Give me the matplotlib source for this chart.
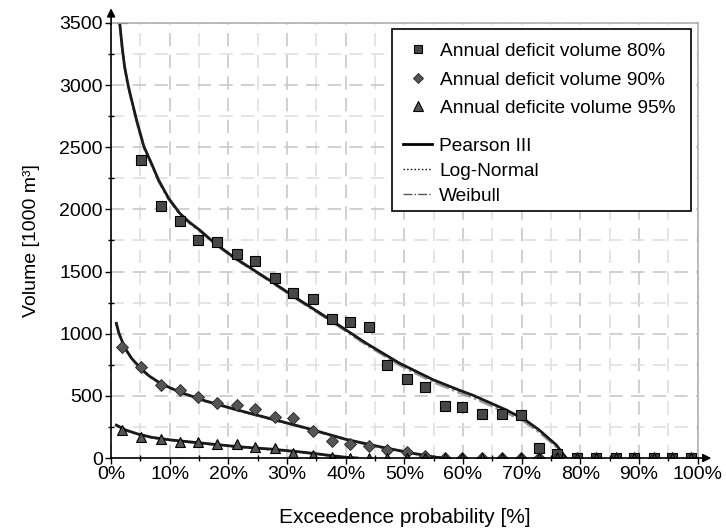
import matplotlib
matplotlib.use("Agg")
import matplotlib.pyplot as plt
from matplotlib.lines import Line2D
from matplotlib.patches import Rectangle
from matplotlib.ticker import MultipleLocator, FuncFormatter

plt.rcParams["font.family"] = ["Liberation Sans", "DejaVu Sans"]

# plotting positions [%] (same for the three samples)
prob = [1.8, 5.1, 8.5, 11.7, 14.8, 18.0, 21.4, 24.6, 27.9, 31.0, 34.4, 37.6, 40.7,
        43.9, 47.1, 50.4, 53.6, 56.9, 59.9, 63.3, 66.6, 69.8, 72.9, 76.1, 79.5,
        82.7, 86.0, 89.1, 92.5, 95.7, 98.9]

vol_80 = [3540, 2400, 2025, 1909, 1754, 1735, 1641, 1588, 1448, 1330, 1277, 1116, 1094,
          1051, 751, 633, 569, 418, 408, 354, 354, 343, 78, 32, 0,
          0, 0, 0, 0, 0, 0]
vol_90 = [891, 730, 587, 547, 493, 445, 429, 397, 332, 322, 217, 139, 110,
          99, 64, 45, 18, 0, 0, 0, 0, 0, 0, 0, 0,
          0, 0, 0, 0, 0, 0]
vol_95 = [225, 171, 150, 126, 126, 115, 115, 88, 77, 43, 24, 8, 0,
          0, 0, 0, 0, 0, 0, 0, 0, 0, 0, 0, 0,
          0, 0, 0, 0, 0, 0]

# fitted curves
fit80_x = [1.3, 1.5, 1.9, 2.3, 2.9, 3.5, 4.5, 5.6, 6.6, 8.1, 9.8, 11.7, 13.4, 15.1,
           17.5, 20.8, 26.5, 32.1, 37.9, 43.5, 49.2, 54.9, 59.4, 61.7, 67.4, 70.5,
           73.0, 75.9, 77.6]
p3_80 = [3560, 3485, 3300, 3150, 3000, 2880, 2690, 2505, 2400, 2236, 2090, 1969, 1895,
         1834, 1735, 1619, 1446, 1271, 1097, 923, 762, 630, 545, 505, 386, 310,
         225, 105, 0]
ln_80 = [3560, 3480, 3295, 3142, 2992, 2872, 2682, 2497, 2392, 2228, 2083, 1962, 1888,
         1828, 1729, 1613, 1440, 1264, 1088, 912, 748, 614, 528, 488, 368, 292,
         208, 92, 0]
wb_80 = [3560, 3478, 3292, 3138, 2988, 2868, 2678, 2494, 2389, 2224, 2080, 1960, 1886,
         1826, 1727, 1612, 1438, 1262, 1086, 910, 745, 610, 524, 484, 364, 289,
         205, 90, 0]

fit90_x = [0.9, 1.3, 1.8, 2.5, 3.5, 5.2, 6.5, 8.0, 10.0, 12.0, 16.0, 21.6, 27.3, 33.0,
           40.1, 45.8, 51.5, 55.4, 57.0]
p3_90 = [1084, 1010, 949, 875, 802, 714, 660, 614, 566, 526, 461, 386, 315, 245,
         150, 91, 38, 6, 0]
ln_90 = [1080, 1006, 945, 871, 798, 710, 657, 611, 563, 523, 458, 383, 312, 242,
         147, 88, 36, 5, 0]
wb_90 = [1078, 1004, 943, 869, 796, 709, 656, 610, 562, 522, 457, 382, 311, 241,
         146, 87, 35, 5, 0]

fit95_x = [0.9, 2.5, 4.6, 7.0, 10.3, 16.0, 21.7, 27.3, 31.9, 34.4, 37.5, 40.1, 42.0]
p3_95 = [265, 225, 193, 166, 145, 118, 91, 72, 51, 38, 20, 6, 0]
ln_95 = [263, 223, 191, 164, 143, 116, 89, 70, 49, 36, 18, 5, 0]
wb_95 = [262, 222, 190, 163, 142, 115, 88, 69, 48, 35, 17, 4, 0]

fig = plt.figure(figsize=(7.26, 5.32), dpi=100)
ax = fig.add_axes([0.153, 0.139, 0.808, 0.818])

ax.set_xlim(0, 100)
ax.set_ylim(0, 3500)

# grid
ax.xaxis.set_major_locator(MultipleLocator(10))
ax.xaxis.set_minor_locator(MultipleLocator(5))
ax.yaxis.set_major_locator(MultipleLocator(500))
ax.yaxis.set_minor_locator(MultipleLocator(250))
ax.grid(which="major", color="#c8c8c8", linestyle=(0, (8, 5)), linewidth=1.2)
ax.grid(which="minor", color="#e0e0e0", linestyle=(0, (8, 5)), linewidth=1.2)
ax.set_axisbelow(True)

for s in ["top", "right"]:
    ax.spines[s].set_color("#b0b0b0")
    ax.spines[s].set_linewidth(1.2)
for s in ["left", "bottom"]:
    ax.spines[s].set_color("black")
    ax.spines[s].set_linewidth(1.2)

ax.tick_params(which="major", direction="out", length=4, width=1, labelsize=14,
               colors="black", pad=2)
ax.tick_params(which="minor", direction="inout", length=5, width=1)
ax.xaxis.set_major_formatter(FuncFormatter(lambda v, p: f"{v:.0f}%"))

# arrows at axis ends
ax.annotate("", xy=(0, 1.04), xytext=(0, 0.99), xycoords="axes fraction",
            arrowprops=dict(arrowstyle="-|>", color="black", lw=1.2, mutation_scale=12))
ax.annotate("", xy=(1.028, 0), xytext=(0.99, 0), xycoords="axes fraction",
            arrowprops=dict(arrowstyle="-|>", color="black", lw=1.2, mutation_scale=12))

# fitted curves
for x, ln, wb, p3 in [(fit80_x, ln_80, wb_80, p3_80),
                      (fit90_x, ln_90, wb_90, p3_90),
                      (fit95_x, ln_95, wb_95, p3_95)]:
    ax.plot(x, ln, color="#888888", linestyle=":", linewidth=1.6)
    ax.plot(x, wb, color="#999999", linestyle="-.", linewidth=1.6)
    ax.plot(x, p3, color="#1a1a1a", linestyle="-", linewidth=2.0)

# observed points
ax.plot(prob, vol_80, linestyle="none", marker="s", markersize=7,
        markerfacecolor="#474747", markeredgecolor="black", markeredgewidth=0.8)
ax.plot(prob, vol_90, linestyle="none", marker="D", markersize=6,
        markerfacecolor="#555555", markeredgecolor="#222222", markeredgewidth=0.6)
ax.plot(prob, vol_95, linestyle="none", marker="^", markersize=7.5,
        markerfacecolor="#555555", markeredgecolor="black", markeredgewidth=0.8)

ax.set_xlabel("Exceedence probability [%]", fontsize=15, labelpad=18)
ax.set_ylabel("Volume [1000 m³]", fontsize=14, labelpad=14)

# legend: one frame, two blocks (points / distributions)
box = Rectangle((0.479, 0.568), 0.509, 0.418, transform=ax.transAxes,
                facecolor="white", edgecolor="black", linewidth=1.2, zorder=4)
ax.add_patch(box)

pt_handles = [
    Line2D([], [], linestyle="none", marker="s", markersize=6,
           markerfacecolor="#474747", markeredgecolor="black", markeredgewidth=0.8),
    Line2D([], [], linestyle="none", marker="D", markersize=5,
           markerfacecolor="#555555", markeredgecolor="#222222", markeredgewidth=0.6),
    Line2D([], [], linestyle="none", marker="^", markersize=6.5,
           markerfacecolor="#555555", markeredgecolor="black", markeredgewidth=0.8),
]
pt_labels = ["Annual deficit volume 80%", "Annual deficit volume 90%",
             "Annual deficite volume 95%"]
ln_handles = [
    Line2D([], [], color="black", linewidth=2),
    Line2D([], [], color="black", linestyle=":", linewidth=1),
    Line2D([], [], color="#555555", linestyle="-.", linewidth=1),
]
ln_labels = ["Pearson III", "Log-Normal", "Weibull"]

leg1 = ax.legend(pt_handles, pt_labels, loc="center left", bbox_to_anchor=(0.4953, 0.869),
                 fontsize=13.8, frameon=False, handlelength=1.7, handletextpad=0.3,
                 labelspacing=0.58, borderpad=0, borderaxespad=0)
leg1.set_zorder(5)
ax.add_artist(leg1)
leg2 = ax.legend(ln_handles, ln_labels, loc="center left", bbox_to_anchor=(0.4974, 0.659),
                 fontsize=13.8, frameon=False, handlelength=1.5, handletextpad=0.4,
                 labelspacing=0.4, borderpad=0, borderaxespad=0)
leg2.set_zorder(5)

fig.savefig("out.png", dpi=100)
